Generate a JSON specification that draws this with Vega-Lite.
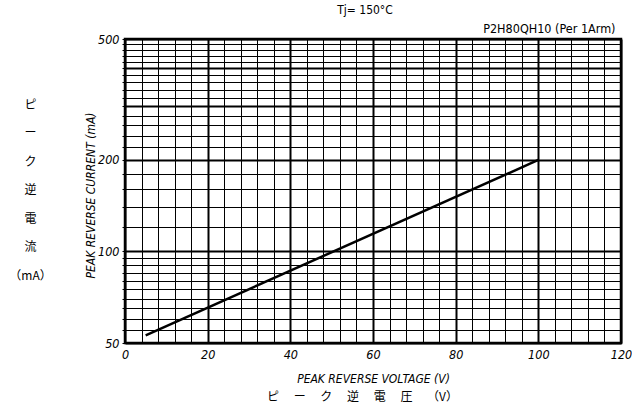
{
  "$schema": "https://vega.github.io/schema/vega-lite/v6.json",
  "width": 496,
  "height": 304,
  "autosize": "none",
  "padding": {"left": 125, "top": 39, "right": 11, "bottom": 62},
  "background": "white",
  "config": {
    "view": {"stroke": "black", "strokeWidth": 2.5},
    "font": "DejaVu Sans Condensed"
  },
  "title": {
    "text": "Tj= 150°C",
    "anchor": "middle",
    "dx": -8,
    "offset": 5,
    "fontSize": 12,
    "fontWeight": "normal",
    "font": "DejaVu Sans Condensed",
    "color": "black"
  },
  "data": {"values": [{"v": 5, "i": 53}, {"v": 100, "i": 200}]},
  "layer": [
    {
      "mark": {"type": "line", "color": "black", "strokeWidth": 2.5, "clip": true},
      "encoding": {
        "x": {
          "field": "v", "type": "quantitative",
          "scale": {"domain": [0, 120], "nice": false, "zero": false},
          "axis": {
            "values": [0,4,8,12,16,20,24,28,32,36,40,44,48,52,56,60,64,68,72,76,80,84,88,92,96,100,104,108,112,116,120],
            "labelExpr": "datum.value % 20 === 0 ? datum.label : ''",
            "grid": true,
            "gridColor": "black",
            "gridOpacity": 1,
            "gridWidth": {"condition": {"test": "datum.value % 20 === 0", "value": 2}, "value": 1},
            "ticks": false,
            "domain": false,
            "labelFont": "DejaVu Sans Condensed",
            "labelFontStyle": "italic",
            "labelFontSize": 12.5,
            "labelColor": "black",
            "labelPadding": 5,
            "labelFlush": false,
            "title": "PEAK REVERSE VOLTAGE (V)",
            "titleFont": "DejaVu Sans Condensed",
            "titleFontStyle": "italic",
            "titleFontWeight": "normal",
            "titleFontSize": 12,
            "titleColor": "black",
            "titleBaseline": "middle",
            "titleY": 35,
            "titleAnchor": "middle"
          }
        },
        "y": {
          "field": "i", "type": "quantitative",
          "scale": {"type": "log", "domain": [50, 500], "nice": false},
          "axis": {
            "values": [50,55,60,65,70,75,80,85,90,95,100,120,140,160,180,200,220,240,260,280,300,320,340,360,380,400,420,440,460,480,500],
            "labelExpr": "indexof([50,100,200,500], datum.value) >= 0 ? datum.label : ''",
            "format": "d",
            "grid": true,
            "gridColor": "black",
            "gridOpacity": 1,
            "gridWidth": {"condition": {"test": "indexof([50,100,200,300,400,500], datum.value) >= 0", "value": 2}, "value": 1},
            "ticks": true,
            "tickSize": 3,
            "tickColor": "black",
            "domain": false,
            "labelFont": "DejaVu Sans Condensed",
            "labelFontStyle": "italic",
            "labelFontSize": 12.5,
            "labelColor": "black",
            "labelPadding": 3,
            "labelFlush": false,
            "title": "PEAK REVERSE CURRENT (mA)",
            "titleFont": "DejaVu Sans Condensed",
            "titleFontStyle": "italic",
            "titleFontWeight": "normal",
            "titleFontSize": 12,
            "titleColor": "black",
            "titleBaseline": "middle",
            "titleX": -35,
            "titleY": 156
          }
        }
      }
    },
    {
      "mark": {"type": "line", "opacity": 0},
      "encoding": {
        "x": {
          "field": "v", "type": "quantitative",
          "axis": {
            "orient": "bottom",
            "domain": false, "ticks": false, "labels": false, "grid": false,
            "title": "ピ　  ー　  ク　  逆　  電　  圧　  （V）",
            "titleFont": "Noto Sans CJK JP",
            "titleFontWeight": "normal",
            "titleFontSize": 12,
            "titleColor": "black",
            "titleBaseline": "middle",
            "titleX": 237,
            "titleY": 53
          }
        },
        "y": {
          "field": "i", "type": "quantitative",
          "axis": {
            "orient": "left",
            "domain": false, "ticks": false, "labels": false, "grid": false,
            "title": ["ピ", "ー", "ク", "逆", "電", "流", "（mA）"],
            "titleAngle": 0,
            "titleBaseline": "top",
            "titleAlign": "center",
            "titleLineHeight": 28.5,
            "titleFont": "Noto Sans CJK JP",
            "titleFontWeight": "normal",
            "titleFontSize": 12,
            "titleColor": "black",
            "titleX": -95,
            "titleY": 60
          }
        }
      }
    },
    {
      "mark": {"type": "line", "opacity": 0},
      "encoding": {
        "x": {
          "field": "v", "type": "quantitative",
          "axis": {
            "orient": "top",
            "domain": false, "ticks": false, "labels": false, "grid": false,
            "title": "P2H80QH10    (Per  1Arm)",
            "titleAnchor": "end",
            "titleAlign": "right",
            "titleFont": "DejaVu Sans Condensed",
            "titleFontWeight": "normal",
            "titleFontSize": 12.5,
            "titleColor": "black",
            "titlePadding": 4,
            "titleX": 490
          }
        },
        "y": {"field": "i", "type": "quantitative", "axis": null}
      }
    }
  ],
  "resolve": {"axis": {"x": "independent", "y": "independent"}}
}
